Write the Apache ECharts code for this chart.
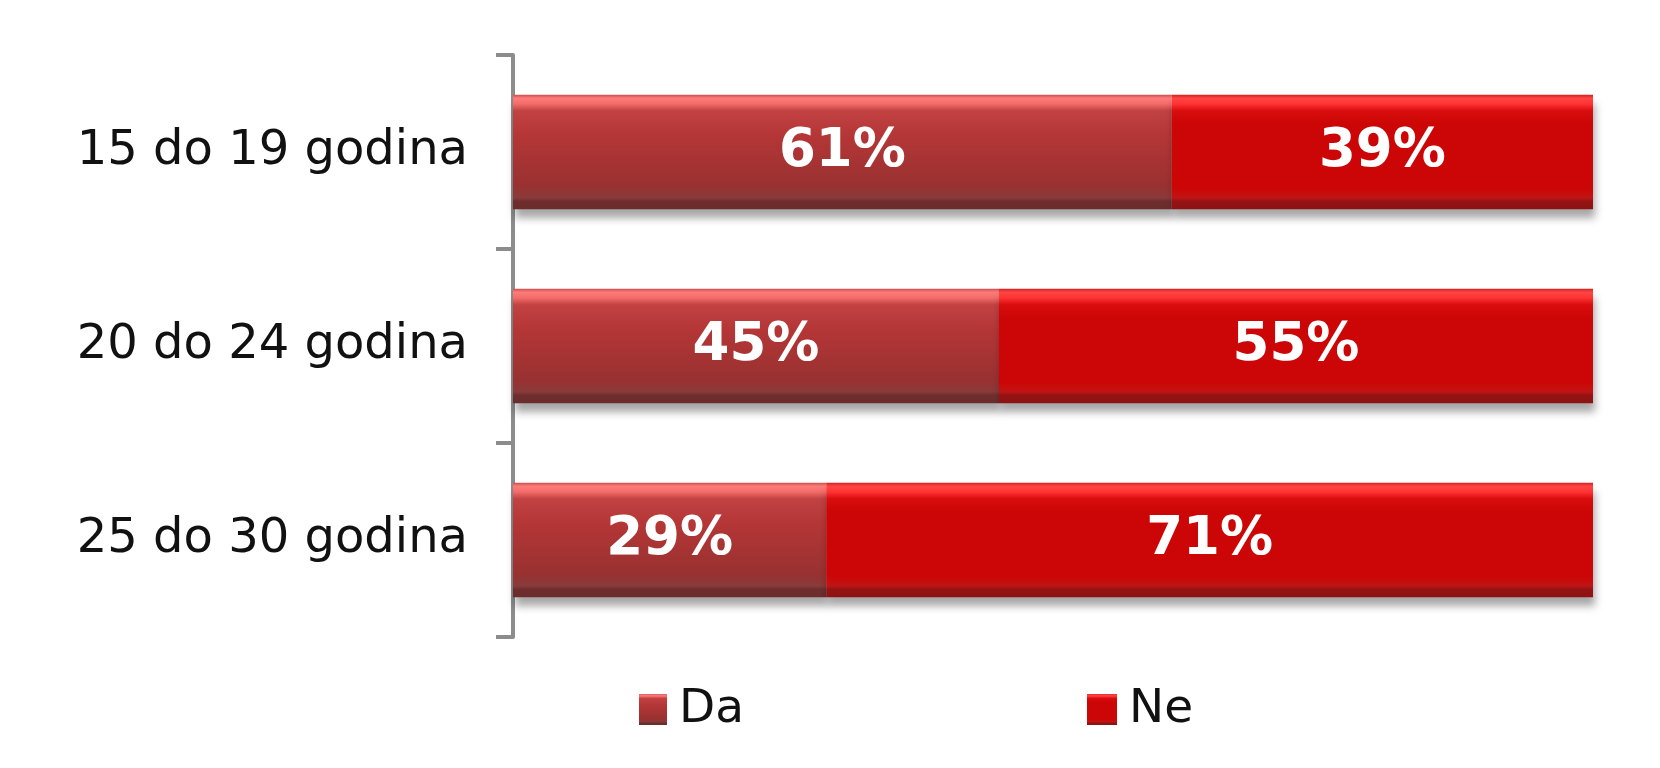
<!DOCTYPE html>
<html>
<head>
<meta charset="utf-8">
<script src="https://cdn.jsdelivr.net/npm/echarts@6/dist/echarts.min.js"></script>
<style>
  html, body { margin: 0; padding: 0; background: #fff; }
  #chart { width: 1660px; height: 768px; }
</style>
</head>
<body>
<div id="chart"></div>
<script>
// kategorije i vrijednosti (postotci)
var categories = ["15 do 19 godina", "20 do 24 godina", "25 do 30 godina"];
var daValues = [61, 45, 29];
var neValues = [39, 55, 71];

var myChart = echarts.init(document.getElementById("chart"));

// "staklasti" gradijenti kao u originalu
var daColor = new echarts.graphic.LinearGradient(0, 0, 0, 1, [
  { offset: 0, color: "#c85050" },
  { offset: 0.03, color: "#ff7b78" },
  { offset: 0.08, color: "#f26c6a" },
  { offset: 0.14, color: "#c24242" },
  { offset: 0.35, color: "#b53636" },
  { offset: 0.8, color: "#993131" },
  { offset: 0.9, color: "#8a3a3a" },
  { offset: 0.93, color: "#6f2e2e" },
  { offset: 1, color: "#6b2c2c" }
]);
var neColor = new echarts.graphic.LinearGradient(0, 0, 0, 1, [
  { offset: 0, color: "#d42020" },
  { offset: 0.03, color: "#ff4545" },
  { offset: 0.08, color: "#ff3333" },
  { offset: 0.14, color: "#d90d0d" },
  { offset: 0.25, color: "#cc0606" },
  { offset: 0.82, color: "#cc0606" },
  { offset: 0.9, color: "#c01414" },
  { offset: 0.93, color: "#941414" },
  { offset: 1, color: "#8e1212" }
]);

var labelStyle = {
  show: true,
  position: "inside",
  formatter: "{c}%",
  color: "#fff",
  fontFamily: "DejaVu Sans",
  fontWeight: "bold",
  fontSize: 53
};
var legendText = {
  fontFamily: "DejaVu Sans",
  fontSize: 47,
  color: "#111",
  padding: [0, 0, 0, 7]
};

myChart.setOption({
  backgroundColor: "#fff",
  animation: false,
  grid: {
    left: 513,
    right: 67,
    top: 55,
    bottom: 131
  },
  legend: [
    {
      data: ["Da"],
      left: 639,
      top: 686,
      padding: 0,
      icon: "rect",
      itemWidth: 28,
      itemHeight: 31,
      textStyle: legendText
    },
    {
      data: ["Ne"],
      left: 1087,
      top: 686,
      padding: 0,
      icon: "rect",
      itemWidth: 30,
      itemHeight: 31,
      textStyle: legendText
    }
  ],
  xAxis: {
    type: "value",
    min: 0,
    max: 100,
    show: false
  },
  yAxis: {
    type: "category",
    inverse: true,
    data: categories,
    axisLine: {
      show: true,
      lineStyle: { color: "#8c8c8c", width: 4 }
    },
    axisTick: {
      show: true,
      length: 17,
      lineStyle: { color: "#8c8c8c", width: 4 }
    },
    axisLabel: {
      margin: 45,
      color: "#111",
      fontFamily: "DejaVu Sans",
      fontSize: 48
    }
  },
  series: [
    {
      name: "Da",
      type: "bar",
      stack: "ukupno",
      barWidth: "59%",
      data: daValues,
      label: labelStyle,
      itemStyle: {
        color: daColor,
        shadowColor: "rgba(0,0,0,0.35)",
        shadowBlur: 8,
        shadowOffsetY: 9,
        shadowOffsetX: 2
      }
    },
    {
      name: "Ne",
      type: "bar",
      stack: "ukupno",
      barWidth: "59%",
      data: neValues,
      label: labelStyle,
      itemStyle: {
        color: neColor,
        shadowColor: "rgba(0,0,0,0.35)",
        shadowBlur: 8,
        shadowOffsetY: 9,
        shadowOffsetX: 2
      }
    }
  ]
});
</script>
</body>
</html>
